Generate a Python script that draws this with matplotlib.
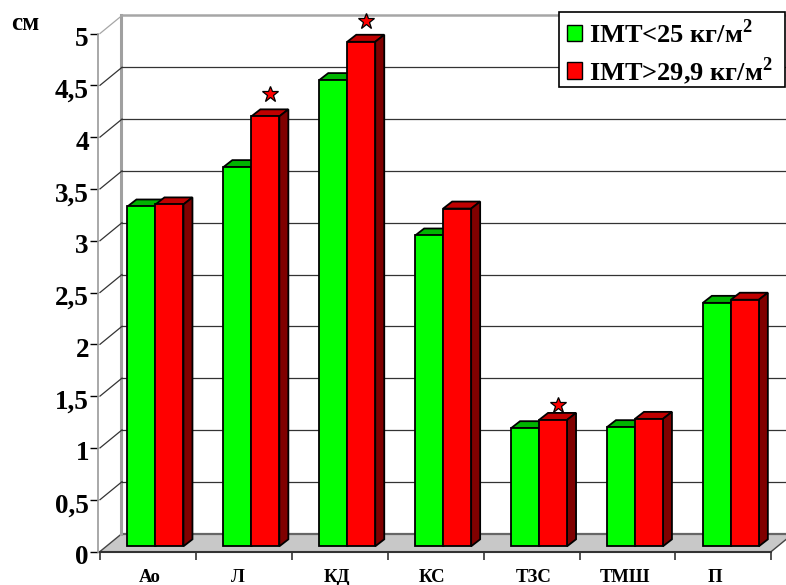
import matplotlib
matplotlib.use('Agg')
import matplotlib.pyplot as plt
from matplotlib.patches import Polygon, Patch, Rectangle
from matplotlib.transforms import ScaledTranslation

plt.rcParams['font.family'] = ['Liberation Serif', 'DejaVu Serif']
plt.rcParams['font.weight'] = 'bold'
plt.rcParams['mathtext.fontset'] = 'custom'
plt.rcParams['mathtext.bf'] = 'Liberation Serif:bold'

# data
categories = ['Ао', 'Л', 'КД', 'КС', 'ТЗС', 'ТМШ', 'П']
imt_low = [3.28, 3.66, 4.50, 3.00, 1.14, 1.15, 2.35]
imt_high = [3.30, 4.15, 4.87, 3.26, 1.22, 1.23, 2.38]
star_cats = [1, 2, 4]
star_vals = [4.37, 5.075, 1.365]
y_ticks = [0, 0.5, 1, 1.5, 2, 2.5, 3, 3.5, 4, 4.5, 5]
y_labels = ['0', '0,5', '1', '1,5', '2', '2,5', '3', '3,5', '4', '4,5', '5']
label_nudge = [2, -6, -3, -4, 2, -2, -8]  # px, the labels are not quite centred

# pixels per unit on both axes
PX_X = 95.9
PX_Y = 103.6
def dx(px):
    return px / PX_X
def dy(px):
    return px / PX_Y

W, H = 786, 585
fig = plt.figure(figsize=(W / 100, H / 100), dpi=100)
ax = fig.add_axes([100 / W, (H - 551.5) / H, 7 * PX_X / W, 5 * PX_Y / H])
ax.set_xlim(0, 7)
ax.set_ylim(0, 5)
ax.patch.set_visible(False)

# floor and walls
back_x, back_y = dx(22), dy(18)
ax.add_patch(Polygon([(0, 0), (7, 0), (7 + back_x, back_y), (back_x, back_y)],
                     closed=True, facecolor='#c8c8c8', edgecolor='none', clip_on=False, zorder=1))
ax.plot([back_x, 7 + back_x], [back_y, back_y], color='#666666', lw=1.6, clip_on=False, zorder=2)
ax.plot([0, back_x], [0, back_y], color='#444444', lw=1, clip_on=False, zorder=2)
ax.plot([7, 7 + back_x], [0, back_y], color='#444444', lw=1, clip_on=False, zorder=2)
ax.plot([dx(20.5), dx(20.5)], [back_y, 5 + back_y], color='#a0a0a0', lw=2.2, clip_on=False, zorder=2)

for v in y_ticks[1:]:
    top = v == 5
    col = '#a6a6a6' if top else '#333333'
    ax.plot([0, back_x], [v, v + back_y], color=col, lw=0.9, clip_on=False, zorder=2)
    ax.plot([back_x, 7 + back_x], [v + back_y, v + back_y], color=col,
            lw=1.8 if top else 0.9, clip_on=False, zorder=2)

# bars: front face through ax.bar, then the top and the side
bar_w = 28 / PX_X
front_x, front_y = dx(7.5), dy(5.2)
side_x, side_y = dx(9), dy(7)

def draw_bars(xs, vals, face, top_col, side_col, z):
    for x, v in zip(xs, vals):
        left, right = x - bar_w / 2, x + bar_w / 2
        h = v + front_y
        ax.add_patch(Polygon([(left, h), (right, h), (right + side_x, h + side_y), (left + side_x, h + side_y)],
                             closed=True, facecolor=top_col, edgecolor='black', lw=1.3, clip_on=False, zorder=z))
        ax.add_patch(Polygon([(right, front_y), (right + side_x, front_y + side_y),
                              (right + side_x, h + side_y), (right, h)],
                             closed=True, facecolor=side_col, edgecolor='black', lw=1.3, clip_on=False, zorder=z))
    ax.bar(xs, vals, bar_w, bottom=front_y, color=face, edgecolor='black', lw=1.3, zorder=z, clip_on=False)

xs_low = [i + 0.5 + front_x - bar_w / 2 for i in range(len(categories))]
xs_high = [i + 0.5 + front_x + bar_w / 2 for i in range(len(categories))]
draw_bars(xs_low, imt_low, '#00ff00', '#00b400', '#008000', 3)
draw_bars(xs_high, imt_high, '#ff0000', '#c00000', '#800000', 4)

# stars above the significant bars
star_x = [xs_high[i] + side_x / 2 for i in star_cats]
star_y = [v + front_y for v in star_vals]
ax.plot(star_x, star_y, ls='none', marker='*', ms=12, mfc='#ff0000', mec='black', mew=0.9,
        clip_on=False, zorder=5)

# axes
for s in ['top', 'right']:
    ax.spines[s].set_visible(False)
ax.spines['left'].set_position(('outward', 1.5))
ax.spines['left'].set_color('#999999')
ax.spines['left'].set_linewidth(1.2)
ax.spines['bottom'].set_color('#333333')
ax.spines['bottom'].set_linewidth(1.5)
ax.spines['bottom'].set_zorder(6)

ax.set_yticks(y_ticks)
ax.set_yticklabels(y_labels, fontsize=19.5, fontweight='bold')
ax.tick_params(axis='y', length=5.5, width=1, pad=1)
shift = ScaledTranslation(0, -3 / 100, fig.dpi_scale_trans)
for lab in ax.get_yticklabels():
    lab.set_transform(lab.get_transform() + shift)
ax.set_xticks(range(8))
ax.set_xticklabels([])
ax.tick_params(axis='x', length=5.5, width=1.2, color='#333333')

for i, name in enumerate(categories):
    ax.annotate(name, (i + 0.5, 0), xycoords=('data', 'axes fraction'),
                xytext=(label_nudge[i] * 0.72, -25.5 * 0.72), textcoords='offset points',
                ha='center', va='center', fontsize=13.5, fontweight='bold', annotation_clip=False)

fig.text(25 / W, (H - 23) / H, 'см', ha='center', va='center', fontsize=18, fontweight='bold')

# legend box is drawn by hand, it is wider than its text
fig.add_artist(Rectangle((559 / W, (H - 87) / H), 226 / W, 75 / H, transform=fig.transFigure,
                         facecolor='white', edgecolor='black', lw=1.2, zorder=9))
handles = [Patch(facecolor='#00ff00', edgecolor='black'), Patch(facecolor='#ff0000', edgecolor='black')]
labels = ['IМТ<25 кг/м$^{\\mathbf{2}}$', 'IМТ>29,9 кг/м$^{\\mathbf{2}}$']
leg = fig.legend(handles, labels, loc='upper left', bbox_to_anchor=(567 / W, (H - 19) / H),
                 fontsize=19, frameon=False, borderpad=0, labelspacing=0.27, handlelength=0.57,
                 handleheight=0.57, handletextpad=0.27, borderaxespad=0)
leg.set_zorder(10)
for t in leg.get_texts():
    t.set_fontweight('bold')

fig.savefig('out.png', dpi=100)
